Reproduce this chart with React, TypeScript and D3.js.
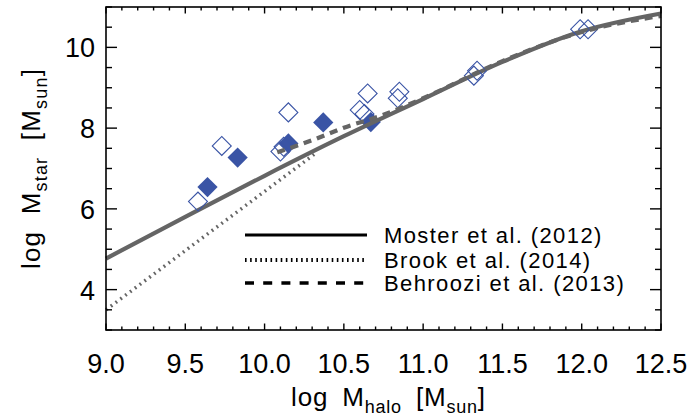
import React from "react";
import * as d3 from "d3";

// Moster et al. (2012) relation
const mosterX = [9.0, 9.5, 10.0, 10.5, 11.0, 11.5, 12.0, 12.5];
const mosterY = [4.77, 5.8, 6.82, 7.8, 8.72, 9.64, 10.4, 10.84];
// Brook et al. (2014)
const brookX = [9.0, 10.33];
const brookY = [3.5, 7.4];
// Behroozi et al. (2013)
const behrooziX = [10.08, 10.3, 10.5, 10.75, 11.0, 11.5, 12.0, 12.5];
const behrooziY = [7.4, 7.7, 8.01, 8.33, 8.74, 9.66, 10.38, 10.78];
// filled diamonds
const filledX = [9.64, 9.83, 10.15, 10.37, 10.67];
const filledY = [6.54, 7.27, 7.62, 8.14, 8.15];
// open diamonds
const openX = [9.58, 9.73, 10.1, 10.12, 10.15, 10.6, 10.63, 10.65, 10.84, 10.85, 11.32, 11.34, 11.99, 12.04];
const openY = [6.18, 7.56, 7.42, 7.54, 8.39, 8.45, 8.35, 8.86, 8.74, 8.9, 9.3, 9.42, 10.45, 10.45];

const xTickValues = [9.0, 9.5, 10.0, 10.5, 11.0, 11.5, 12.0, 12.5];
const yTickValues = [4, 6, 8, 10];
const legendLabels = ["Moster et al. (2012)", "Brook et al. (2014)", "Behroozi et al. (2013)"];

const W = 694;
const H = 418;
const L = 106, R = 661, T = 7, B = 330;
const GRAY = "#656565";
const BLUE = "#3a54a5";
const FONT = "'Liberation Sans', Arial, sans-serif";

export default function App() {
  const x = d3.scaleLinear().domain([9, 12.5]).range([L, R]);
  const y = d3.scaleLinear().domain([3, 11]).range([B, T]);

  const zip = (xs: number[], ys: number[]) => xs.map((v, i) => [v, ys[i]] as [number, number]);
  const line = d3
    .line<[number, number]>()
    .x((d) => x(d[0]))
    .y((d) => y(d[1]))
    .curve(d3.curveMonotoneX);

  const sq = d3.symbol().type(d3.symbolSquare);
  const filledPath = sq.size(205)() as string;
  const openPath = sq.size(180)() as string;

  const xMinor = d3.range(90, 126, 1).map((v) => v / 10);
  const yMinor = d3.range(6, 23, 1).map((v) => v / 2);
  const xMajLen = 6.5, xMinLen = 3.5, yMajLen = 11, yMinLen = 6;

  const legendY = [235, 260, 283];

  return (
    <svg width={W} height={H} style={{ position: "absolute", left: 0, top: 0, background: "#fff" }}>
      <rect x={0} y={0} width={W} height={H} fill="#fff" />
      {/* filled diamonds */}
      {filledX.map((v, i) => (
        <path key={"f" + i} d={filledPath} fill={BLUE} transform={`translate(${x(v)},${y(filledY[i])}) rotate(45)`} />
      ))}
      {/* lines */}
      <path d={line(zip(mosterX, mosterY)) as string} fill="none" stroke={GRAY} strokeWidth={4.2} />
      <path d={line(zip(brookX, brookY)) as string} fill="none" stroke={GRAY} strokeWidth={3.5} strokeDasharray="1.8 4.2" />
      {/* open diamonds */}
      {openX.map((v, i) => (
        <path key={"o" + i} d={openPath} fill="none" stroke={BLUE} strokeWidth={1.1} transform={`translate(${x(v)},${y(openY[i])}) rotate(45)`} />
      ))}
      <path d={line(zip(behrooziX, behrooziY)) as string} fill="none" stroke={GRAY} strokeWidth={4.2} strokeDasharray="8 6" />

      {/* axes frame */}
      <rect x={L} y={T} width={R - L} height={B - T} fill="none" stroke="#000" strokeWidth={1.6} />
      {xMinor.map((v, i) => {
        const major = Math.abs(v * 2 - Math.round(v * 2)) < 1e-6;
        const len = major ? xMajLen : xMinLen;
        return (
          <g key={"xt" + i} stroke="#000" strokeWidth={1.4}>
            <line x1={x(v)} x2={x(v)} y1={B} y2={B - len} />
            <line x1={x(v)} x2={x(v)} y1={T} y2={T + len} />
          </g>
        );
      })}
      {yMinor.map((v, i) => {
        const major = Number.isInteger(v) && v % 2 === 0;
        const len = major ? yMajLen : yMinLen;
        return (
          <g key={"yt" + i} stroke="#000" strokeWidth={1.4}>
            <line x1={L} x2={L + len} y1={y(v)} y2={y(v)} />
            <line x1={R} x2={R - len} y1={y(v)} y2={y(v)} />
          </g>
        );
      })}
      {xTickValues.map((v, i) => (
        <text key={"xl" + i} x={x(v)} y={373} textAnchor="middle" fontFamily={FONT} fontSize={27} fill="#000">
          {v.toFixed(1)}
        </text>
      ))}
      {yTickValues.map((v, i) => (
        <text key={"yl" + i} x={95} y={y(v) + 10} textAnchor="end" fontFamily={FONT} fontSize={27} fill="#000">
          {v}
        </text>
      ))}

      {/* axis titles */}
      <text x={(L + R) / 2 + 5} y={406} textAnchor="middle" fontFamily={FONT} fontSize={26} letterSpacing={0.8} wordSpacing={6} fill="#000">
        log M<tspan fontSize={18} dy={7}>halo</tspan>
        <tspan dy={-7}> [M</tspan>
        <tspan fontSize={18} dy={7}>sun</tspan>
        <tspan dy={-7}>]</tspan>
      </text>
      <text
        transform={`translate(40,${(T + B) / 2}) rotate(-90)`}
        textAnchor="middle"
        fontFamily={FONT}
        fontSize={26}
        letterSpacing={1.2}
        wordSpacing={8}
        fill="#000"
      >
        log M<tspan fontSize={18} dy={7}>star</tspan>
        <tspan dy={-7}> [M</tspan>
        <tspan fontSize={18} dy={7}>sun</tspan>
        <tspan dy={-7}>]</tspan>
      </text>

      {/* legend */}
      <line x1={245} x2={367} y1={legendY[0]} y2={legendY[0]} stroke="#000" strokeWidth={3} />
      <line x1={245} x2={367} y1={legendY[1]} y2={legendY[1]} stroke="#000" strokeWidth={4} strokeDasharray="1.6 3.5" />
      <line x1={245} x2={367} y1={legendY[2]} y2={legendY[2]} stroke="#000" strokeWidth={3.5} strokeDasharray="9 9.2" />
      {legendLabels.map((t, i) => (
        <text key={"lg" + i} x={384} y={legendY[i] + 8} fontFamily={FONT} fontSize={22} letterSpacing={1.4} fill="#000">
          {t}
        </text>
      ))}
    </svg>
  );
}
